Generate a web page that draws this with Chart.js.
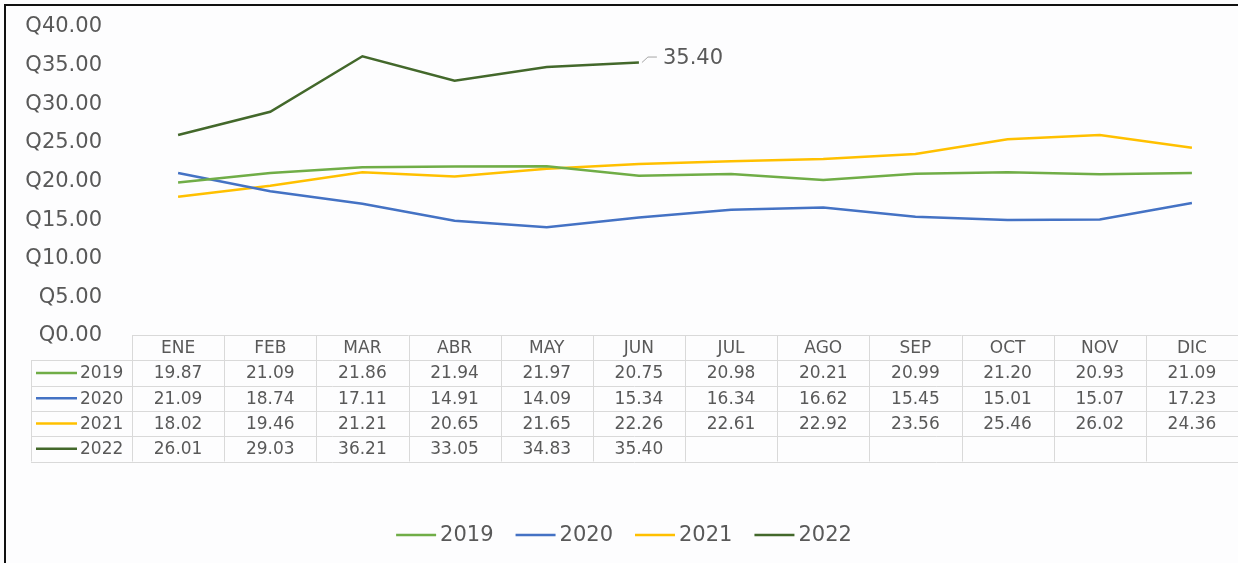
<!DOCTYPE html>
<html>
<head>
<meta charset="utf-8">
<script src="https://cdn.jsdelivr.net/npm/chart.js@4.4.1/dist/chart.umd.min.js"></script>
<style>
    body { margin: 0; background: #fdfdfe; }
    #wrap { position: relative; width: 1238px; height: 563px; }
    #frame { position: absolute; left: 4px; top: 4px; width: 1240px; height: 570px;
             border-left: 2px solid #111; border-top: 2px solid #111; pointer-events: none; }
</style>
</head>
<body>
<div id="wrap">
    <canvas id="precios" width="1238" height="563"></canvas>
    <div id="frame"></div>
</div>
<script>
// datos de la grafica
const meses = ['ENE', 'FEB', 'MAR', 'ABR', 'MAY', 'JUN', 'JUL', 'AGO', 'SEP', 'OCT', 'NOV', 'DIC'];
const anios = ['2019', '2020', '2021', '2022'];
const valores2019 = [19.87, 21.09, 21.86, 21.94, 21.97, 20.75, 20.98, 20.21, 20.99, 21.20, 20.93, 21.09];
const valores2020 = [21.09, 18.74, 17.11, 14.91, 14.09, 15.34, 16.34, 16.62, 15.45, 15.01, 15.07, 17.23];
const valores2021 = [18.02, 19.46, 21.21, 20.65, 21.65, 22.26, 22.61, 22.92, 23.56, 25.46, 26.02, 24.36];
const valores2022 = [26.01, 29.03, 36.21, 33.05, 34.83, 35.40];
const colores = ['#70ad47', '#4472c4', '#ffc000', '#43682b'];

const series = [valores2019, valores2020, valores2021, valores2022];
const fuente = '"DejaVu Sans", sans-serif';
const gris = '#595959';

let datasets = []
for (let i = 0; i < anios.length; i++) {
    datasets.push({
        label: anios[i],
        data: series[i],
        borderColor: colores[i],
        backgroundColor: colores[i],
        borderWidth: 2.5,
        pointRadius: 0,
        tension: 0
    });
}

// tabla de datos, leyenda y etiqueta del ultimo valor
const tablaPlugin = {
    id: 'tabla',
    afterDraw(chart) {
        const ctx = chart.ctx;
        const x = chart.scales.x;
        const area = chart.chartArea;
        const colW = (area.right - area.left) / meses.length;
        const top = 335;
        const rowH = 25.3;
        const firstLeft = 31;

        ctx.save();
        ctx.strokeStyle = '#d9d9d9';
        ctx.lineWidth = 1;

        // lineas horizontales
        ctx.beginPath();
        ctx.moveTo(area.left, top + 0.5);
        ctx.lineTo(area.right, top + 0.5);
        for (let r = 1; r <= anios.length + 1; r++) {
            let y = Math.round(top + r * rowH) + 0.5;
            ctx.moveTo(firstLeft, y);
            ctx.lineTo(area.right, y);
        }
        // lineas verticales
        ctx.moveTo(firstLeft + 0.5, top + rowH);
        ctx.lineTo(firstLeft + 0.5, top + rowH * (anios.length + 1));
        for (let c = 0; c < meses.length; c++) {
            let xl = Math.round(area.left + c * colW) + 0.5;
            ctx.moveTo(xl, top);
            ctx.lineTo(xl, top + rowH * (anios.length + 1));
        }
        ctx.stroke();

        ctx.fillStyle = gris;
        ctx.font = '17px ' + fuente;
        ctx.textAlign = 'center';
        ctx.textBaseline = 'middle';
        for (let c = 0; c < meses.length; c++) {
            ctx.fillText(meses[c], x.getPixelForValue(c), top + rowH / 2 + 1);
        }
        for (let r = 0; r < anios.length; r++) {
            let yc = top + rowH * (r + 1) + rowH / 2 + 1;
            for (let c = 0; c < series[r].length; c++) {
                ctx.fillText(series[r][c].toFixed(2), x.getPixelForValue(c), yc);
            }
            // nombre de la serie con su linea
            ctx.strokeStyle = colores[r];
            ctx.lineWidth = 2.5;
            ctx.beginPath();
            ctx.moveTo(36, yc - 1);
            ctx.lineTo(77, yc - 1);
            ctx.stroke();
            ctx.textAlign = 'left';
            ctx.fillText(anios[r], 80, yc);
            ctx.textAlign = 'center';
        }

        // leyenda
        ctx.font = '21px ' + fuente;
        ctx.textAlign = 'left';
        const lineW = 40, gap = 4, sep = 22;
        let total = 0;
        anios.forEach((a, i) => {
            total += lineW + gap + ctx.measureText(a).width + (i < anios.length - 1 ? sep : 0);
        })
        let lx = 624 - total / 2;
        const ly = 535;
        anios.forEach((a, i) => {
            ctx.strokeStyle = colores[i];
            ctx.lineWidth = 2.5;
            ctx.beginPath();
            ctx.moveTo(lx, ly);
            ctx.lineTo(lx + lineW, ly);
            ctx.stroke();
            ctx.fillText(a, lx + lineW + gap, ly + 1);
            lx += lineW + gap + ctx.measureText(a).width + sep;
        })

        // etiqueta del ultimo punto 2022
        const meta = chart.getDatasetMeta(3);
        const p = meta.data[valores2022.length - 1];
        ctx.strokeStyle = '#a6a6a6';
        ctx.lineWidth = 1;
        ctx.beginPath();
        ctx.moveTo(p.x + 3, p.y);
        ctx.lineTo(p.x + 9, p.y - 5.5);
        ctx.lineTo(p.x + 18, p.y - 5.5);
        ctx.stroke();
        ctx.fillStyle = gris;
        ctx.fillText(valores2022[valores2022.length - 1].toFixed(2), p.x + 24, p.y - 4);
        ctx.restore();
    }
};

const config = {
    type: 'line',
    data: {
        labels: meses,
        datasets: datasets
    },
    options: {
        responsive: false,
        animation: false,
        layout: {
            padding: { top: 27, right: 0, bottom: 227, left: 0 }
        },
        plugins: {
            legend: { display: false },
            tooltip: { enabled: false }
        },
        scales: {
            x: {
                display: false,
                offset: true
            },
            y: {
                min: 0,
                max: 40,
                afterFit: (scale) => {
                    scale.width = 132;
                    scale.paddingTop = 0;
                    scale.paddingBottom = 0;
                },
                grid: { display: false },
                border: { display: false },
                ticks: {
                    stepSize: 5,
                    padding: 22,
                    color: gris,
                    font: { family: fuente, size: 21 },
                    callback: (v) => 'Q' + Number(v).toFixed(2)
                }
            }
        }
    },
    plugins: [tablaPlugin]
};

const myChart = new Chart(document.getElementById('precios'), config);
</script>
</body>
</html>
